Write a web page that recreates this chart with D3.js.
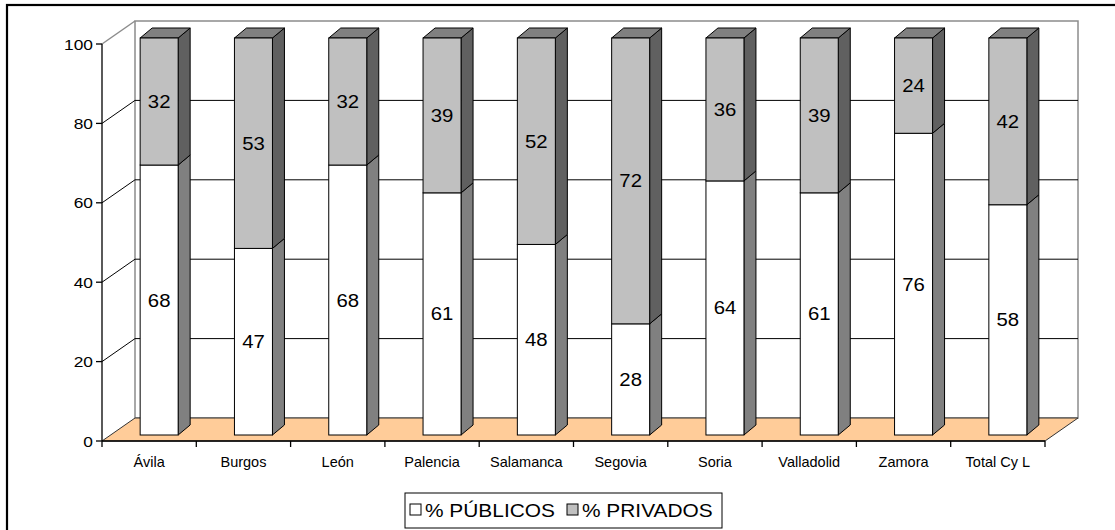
<!DOCTYPE html>
<html><head><meta charset="utf-8">
<script src="https://cdn.jsdelivr.net/npm/d3@7"></script>
<style>body{margin:0;background:#fff}svg{display:block}text{font-family:"Liberation Sans",Arial,sans-serif;fill:#000}</style>
</head><body><svg id="c" width="1115" height="530"></svg>
<script>
const categories = ["Ávila","Burgos","León","Palencia","Salamanca","Segovia","Soria","Valladolid","Zamora","Total Cy L"];
const publicos = [68,47,68,61,48,28,64,61,76,58];
const privados = [32,53,32,39,52,72,36,39,24,42];
const yTicks = [0,20,40,60,80,100];
const seriesNames = ["% PÚBLICOS","% PRIVADOS"];

const svg = d3.select("#c");
svg.append("rect").attr("x",7).attr("y",5).attr("width",1300).attr("height",700).attr("fill","#fff").attr("stroke","#000").attr("stroke-width",2.2);

const x0 = 102, x1 = 1045, yBase = 441, yTop = 44;
const DX = 33, DY = -23;          // full depth of the 3D box
const BOX = 10, BOY = -6;         // bar front plane shift
const BDX = 12, BDY = -10;        // bar depth
const x = d3.scaleBand().domain(categories).range([x0,x1]).padding(0);
const y = d3.scaleLinear().domain([0,100]).range([yBase,yTop]);
const barW = 38;
const floorPts = [[x0,yBase],[x1,yBase],[x1+DX,yBase+DY],[x0+DX,yBase+DY]].map(p=>p.join(",")).join(" ");

// back wall
svg.append("rect").attr("x",x0+DX).attr("y",y(100)+DY).attr("width",x1-x0).attr("height",y(0)-y(100))
  .attr("fill","#fff").attr("stroke","#8c8c8c").attr("stroke-width",1.5);
svg.append("line").attr("x1",x0).attr("y1",y(100)).attr("x2",x0+DX).attr("y2",y(100)+DY).attr("stroke","#8c8c8c").attr("stroke-width",1.5);
yTicks.filter(v=>v>0&&v<100).forEach(v=>{
  svg.append("path").attr("d",`M${x0},${y(v)}L${x0+DX},${y(v)+DY}L${x1+DX},${y(v)+DY}`)
    .attr("fill","none").attr("stroke","#000").attr("stroke-width",1);
});
// floor
svg.append("polygon").attr("points",floorPts).attr("fill","#FFCC99").attr("stroke","#333").attr("stroke-width",1);

// bars
const stacks = [
  {vals:publicos, front:"#ffffff", side:"#808080", top:"#c0c0c0"},
  {vals:privados, front:"#c0c0c0", side:"#606060", top:"#808080"}
];
const g = svg.append("g");
categories.forEach((c,i)=>{
  let base = 0;
  const bx = x(c) + x.bandwidth()/2 - barW/2 + BOX;
  stacks.forEach((s,k)=>{
    const v = s.vals[i];
    const yb = y(base) + BOY, yt = y(base+v) + BOY;
    const xl = bx, xr = bx + barW;
    g.append("polygon").attr("points",[[xr,yb],[xr+BDX,yb+BDY],[xr+BDX,yt+BDY],[xr,yt]].map(p=>p.join(",")).join(" "))
      .attr("fill",s.side).attr("stroke","#000").attr("stroke-width",1).attr("stroke-linejoin","round");
    if (k===stacks.length-1) {
      g.append("polygon").attr("points",[[xl,yt],[xl+BDX,yt+BDY],[xr+BDX,yt+BDY],[xr,yt]].map(p=>p.join(",")).join(" "))
        .attr("fill",s.top).attr("stroke","#000").attr("stroke-width",1).attr("stroke-linejoin","round");
    }
    g.append("rect").attr("x",xl).attr("y",yt).attr("width",barW).attr("height",yb-yt)
      .attr("fill",s.front).attr("stroke","#000").attr("stroke-width",1);
    g.append("text")
      .attr("transform",`translate(${xl+barW/2},${(yt+yb)/2+6.5}) scale(1.1,1)`)
      .attr("text-anchor","middle").attr("font-size",18.5).text(v);
    base += v;
  });
});

// axes
const ax = svg.append("g").attr("stroke","#000");
ax.append("line").attr("x1",x0).attr("y1",yBase).attr("x2",x0).attr("y2",yTop).attr("stroke-width",1.3);
yTicks.forEach(v=>{
  ax.append("line").attr("x1",x0-6).attr("y1",y(v)).attr("x2",x0).attr("y2",y(v)).attr("stroke-width",1.3);
  svg.append("text").attr("transform",`translate(93,${y(v)+5.5}) scale(1.12,1)`).attr("text-anchor","end").attr("font-size",15.5).text(v);
});
ax.append("line").attr("x1",x0).attr("y1",yBase).attr("x2",x1).attr("y2",yBase).attr("stroke-width",1.6);
categories.forEach((c,i)=>{
  ax.append("line").attr("x1",x(c)).attr("y1",yBase).attr("x2",x(c)).attr("y2",yBase+6).attr("stroke-width",1.3);
  svg.append("text").attr("x",x(c)+x.bandwidth()/2).attr("y",467).attr("text-anchor","middle").attr("font-size",14.5).text(c);
});
ax.append("line").attr("x1",x1).attr("y1",yBase).attr("x2",x1).attr("y2",yBase+6).attr("stroke-width",1.3);

// legend
const lg = svg.append("g");
lg.append("rect").attr("x",405).attr("y",493).attr("width",317).attr("height",35).attr("fill","#fff").attr("stroke","#000").attr("stroke-width",1);
const lx = [410,567];
seriesNames.forEach((n,k)=>{
  lg.append("rect").attr("x",lx[k]).attr("y",504).attr("width",11).attr("height",11).attr("fill",stacks[k].front).attr("stroke","#000").attr("stroke-width",1);
  lg.append("text").attr("transform",`translate(${lx[k]+15},517) scale(1.16,1)`).attr("font-size",18).text(n);
});
</script></body></html>
